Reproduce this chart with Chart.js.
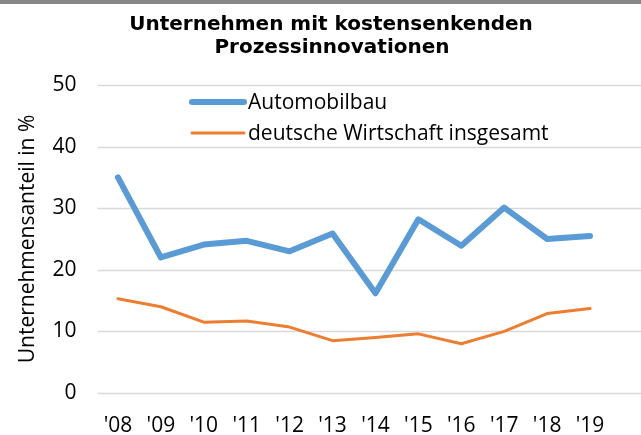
<!DOCTYPE html>
<html>
<head>
<meta charset="utf-8">
<script src="https://cdn.jsdelivr.net/npm/chart.js@4"></script>
<style>
  html, body { margin: 0; padding: 0; background: #fff; overflow: hidden; }
  #wrap { position: relative; width: 641px; height: 435px; }
  #topbar { position: absolute; left: 0; top: 0; width: 641px; height: 4px; background: #878787; }
</style>
</head>
<body>
<div id="wrap">
  <canvas id="chart" width="641" height="435"></canvas>
  <div id="topbar"></div>
</div>
<script>
// data
const years = ["'08", "'09", "'10", "'11", "'12", "'13", "'14", "'15", "'16", "'17", "'18", "'19"];
const automobilbau = [35.0, 22.0, 24.1, 24.7, 23.0, 25.9, 16.2, 28.2, 23.9, 30.1, 25.0, 25.5];
const wirtschaft = [15.3, 14.0, 11.5, 11.7, 10.7, 8.5, 9.0, 9.6, 8.0, 10.0, 12.9, 13.7];
const yTicks = [0, 10, 20, 30, 40, 50];
const titleLines = ['Unternehmen mit kostensenkenden', 'Prozessinnovationen'];
const yTitle = 'Unternehmensanteil in %';

const bodyFont = { family: '"Open Sans", sans-serif', size: 21 };

// horizontal grid lines, run on past the plot to the right edge
const gridPlugin = {
    id: 'wideGrid',
    beforeDatasetsDraw(chart) {
        const ctx = chart.ctx;
        const y = chart.scales.y;
        ctx.save();
        ctx.strokeStyle = '#d9d9d9';
        ctx.lineWidth = 1.5;
        yTicks.forEach(v => {
            const py = Math.round(y.getPixelForValue(v)) + 0.5;
            ctx.beginPath();
            ctx.moveTo(chart.chartArea.left + 1, py);
            ctx.lineTo(chart.width, py);
            ctx.stroke();
        });
        ctx.restore();
    }
};

const titlePlugin = {
    id: 'twoLineTitle',
    afterDraw(chart) {
        const ctx = chart.ctx;
        ctx.save();
        ctx.font = 'bold 20px "DejaVu Sans", sans-serif';
        ctx.fillStyle = '#000';
        ctx.textAlign = 'center';
        ctx.textBaseline = 'alphabetic';
        ctx.fillText(titleLines[0], 331, 30);
        ctx.fillText(titleLines[1], 332, 52.5);
        ctx.restore();
    }
};

const legendPlugin = {
    id: 'innerLegend',
    afterDatasetsDraw(chart) {
        const ctx = chart.ctx;
        ctx.save();
        ctx.font = '21px "Open Sans", sans-serif';
        ctx.textBaseline = 'middle';
        ctx.fillStyle = '#000';
        chart.data.datasets.forEach((ds, i) => {
            const ly = 102 + i * 31;
            ctx.strokeStyle = ds.borderColor;
            ctx.lineWidth = ds.borderWidth;
            ctx.lineCap = 'round';
            ctx.beginPath();
            ctx.moveTo(192, ly);
            ctx.lineTo(244, ly);
            ctx.stroke();
            ctx.fillText(ds.label, 248, ly + 1);
        });
        ctx.restore();
    }
};

const ctx = document.getElementById('chart').getContext('2d');
const myChart = new Chart(ctx, {
    type: 'line',
    data: {
        labels: years,
        datasets: [{
            label: 'Automobilbau',
            data: automobilbau,
            borderColor: '#5B9BD5',
            backgroundColor: '#5B9BD5',
            borderWidth: 6,
            pointRadius: 0,
            borderCapStyle: 'round',
            borderJoinStyle: 'round',
            tension: 0
        }, {
            label: 'deutsche Wirtschaft insgesamt',
            data: wirtschaft,
            borderColor: '#ED7D31',
            backgroundColor: '#ED7D31',
            borderWidth: 3,
            pointRadius: 0,
            borderCapStyle: 'round',
            borderJoinStyle: 'round',
            tension: 0
        }]
    },
    options: {
        responsive: false,
        animation: false,
        layout: { padding: { top: 85, right: 29.5, bottom: 0, left: 0 } },
        plugins: {
            legend: { display: false },
            title: { display: false },
            tooltip: { enabled: false }
        },
        scales: {
            x: {
                type: 'category',
                offset: true,
                grid: { display: false, drawTicks: false },
                border: { display: false },
                ticks: { font: bodyFont, color: '#000', padding: 20, maxRotation: 0 },
                afterFit: s => { s.height = 42; }
            },
            y: {
                min: 0,
                max: 50,
                grid: { display: false, drawTicks: false },
                border: { display: false },
                ticks: { stepSize: 10, font: bodyFont, color: '#000', padding: 20 },
                title: { display: true, text: yTitle, font: bodyFont, color: '#000', padding: { top: 15, bottom: 0 } },
                afterFit: s => { s.width = 96.5; }
            }
        }
    },
    plugins: [gridPlugin, legendPlugin, titlePlugin]
});
</script>
</body>
</html>
